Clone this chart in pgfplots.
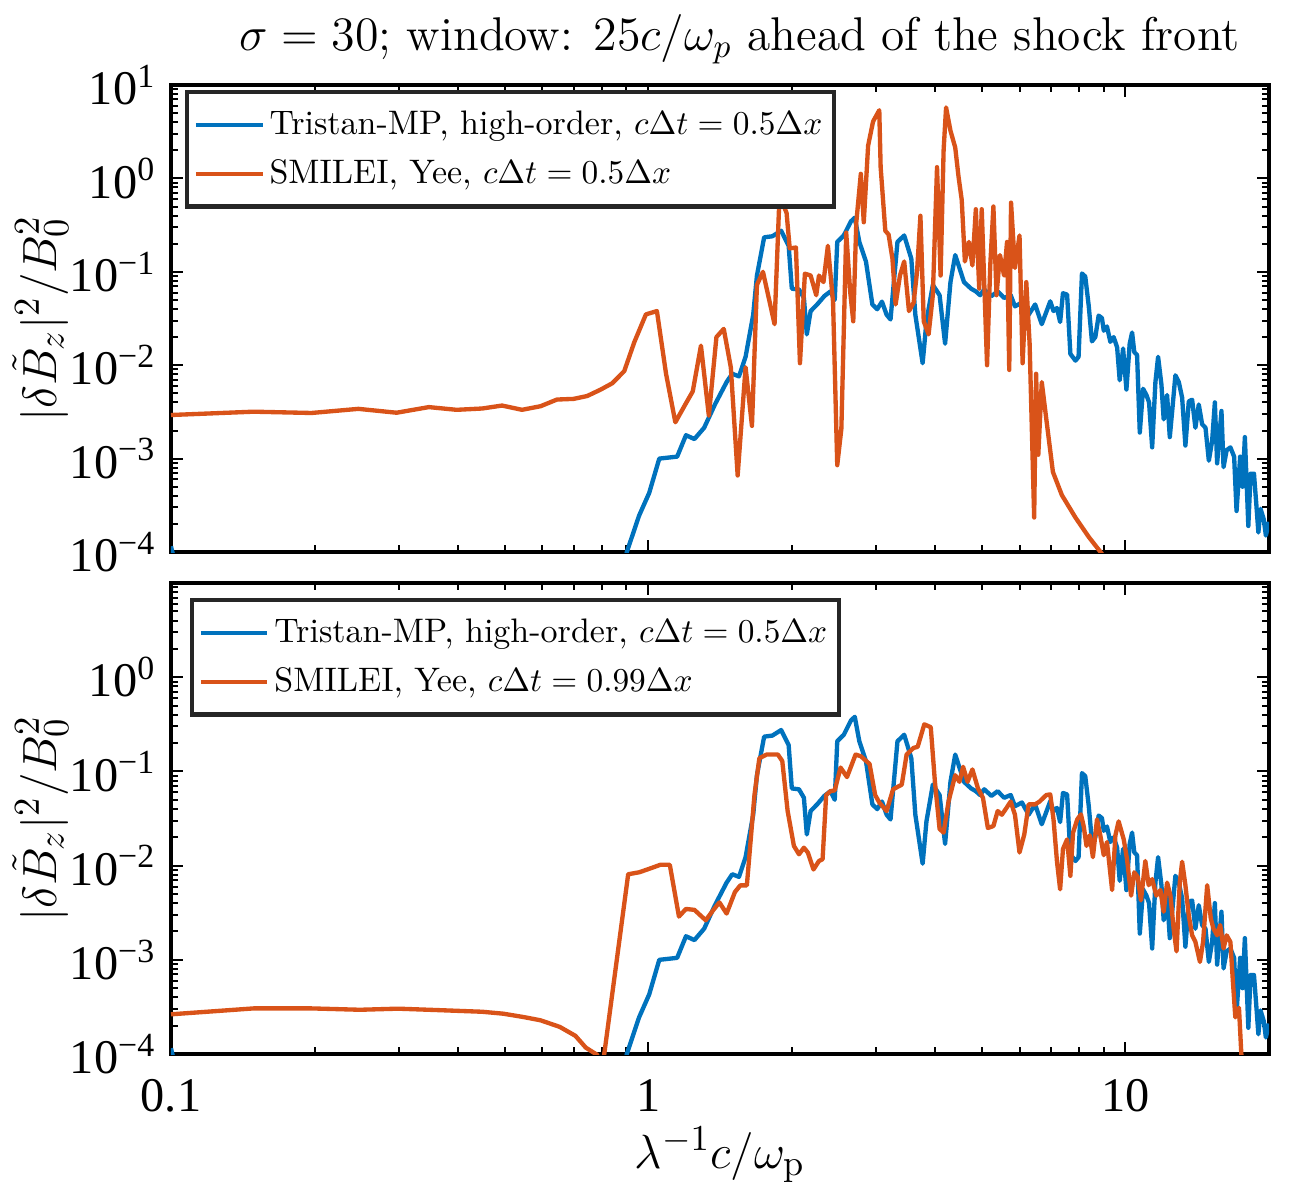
\documentclass[border=0pt]{standalone}
\usepackage{fontspec}
\usepackage{pgfplots}
\usepackage{pgfplotstable}
\pgfplotsset{compat=1.18}
\newfontfamily\tnr{Liberation Serif}
\definecolor{mblue}{rgb}{0,0.447,0.741}
\definecolor{morange}{rgb}{0.851,0.325,0.098}

\pgfplotstableread[row sep=\\]{
x y\\
0.1 1.15e-4\\ 0.104 5e-5\\ 0.88 5e-5\\ 0.902 1.0e-4\\ 0.957 2.45e-4\\ 1.005 4.3e-4\\ 1.055 1.0e-3\\ 1.15 1.05e-3\\
1.2 1.78e-3\\ 1.25 1.62e-3\\ 1.31 2.14e-3\\ 1.38 3.8e-3\\ 1.46 6.6e-3\\ 1.50 8.1e-3\\ 1.55 7.6e-3\\ 1.6 1.23e-2\\
1.66 3.47e-2\\ 1.69 9.1e-2\\ 1.75 0.234\\ 1.82 0.24\\ 1.9 0.275\\ 1.97 0.19\\ 2.0 0.066\\ 2.07 0.0646\\ 2.12 0.0525\\
2.15 0.0214\\ 2.19 0.038\\ 2.26 0.0447\\ 2.34 0.055\\ 2.41 0.0617\\ 2.46 0.050\\ 2.49 0.209\\ 2.57 0.245\\ 2.66 0.347\\
2.71 0.38\\ 2.77 0.209\\ 2.86 0.129\\ 2.95 0.0447\\ 3.02 0.0398\\ 3.09 0.0479\\ 3.16 0.0347\\ 3.22 0.0309\\ 3.33 0.209\\
3.44 0.245\\ 3.56 0.138\\ 3.63 0.0347\\ 3.76 0.0105\\ 3.83 0.0295\\ 3.95 0.0724\\ 4.08 0.0562\\ 4.19 0.017\\ 4.30 0.0776\\
4.40 0.151\\ 4.49 0.11\\ 4.59 0.0776\\ 4.75 0.066\\ 4.86 0.0617\\ 4.96 0.0562\\ 5.06 0.0646\\ 5.24 0.055\\ 5.40 0.0617\\
5.57 0.0525\\ 5.75 0.0562\\ 5.87 0.0427\\ 6.07 0.0468\\ 6.27 0.0347\\ 6.47 0.0447\\ 6.68 0.0275\\
6.96 0.0483\\ 7.07 0.038\\ 7.19 0.041\\ 7.30 0.029\\ 7.40 0.059\\ 7.55 0.057\\ 7.67 0.0132\\ 7.86 0.0112\\ 7.98 0.0123\\
8.11 0.096\\ 8.24 0.089\\ 8.38 0.043\\ 8.51 0.018\\ 8.65 0.020\\ 8.79 0.034\\ 8.93 0.032\\ 9.01 0.0234\\ 9.15 0.026\\
9.30 0.0178\\ 9.45 0.020\\ 9.61 0.0155\\ 9.73 6.9e-3\\ 9.89 0.0151\\ 10.05 5.5e-3\\ 10.21 0.017\\ 10.33 0.0224\\ 10.44 0.0138\\
10.58 0.0129\\ 10.72 1.9e-3\\ 10.89 5.6e-3\\ 11.07 4.8e-3\\ 11.21 4.0e-3\\ 11.38 1.32e-3\\ 11.56 6.6e-3\\ 11.71 0.0123\\
11.90 6.2e-3\\ 12.03 2.63e-3\\ 12.23 4.8e-3\\ 12.39 1.7e-3\\ 12.55 3.47e-3\\ 12.73 7.8e-3\\ 12.94 6.6e-3\\ 13.15 4.5e-3\\
13.36 1.38e-3\\ 13.58 4.1e-3\\ 13.80 4.27e-3\\ 14.02 2.14e-3\\ 14.25 3.8e-3\\ 14.48 2.34e-3\\ 14.72 2.14e-3\\ 14.96 9.5e-4\\
15.2 1.55e-3\\ 15.4 4.0e-3\\ 15.57 8.9e-4\\ 15.9 3.24e-3\\ 16.06 8.1e-4\\ 16.3 1.23e-3\\ 16.6 1.32e-3\\ 16.9 1.05e-3\\
17.1 2.75e-4\\ 17.4 1.05e-3\\ 17.6 5.0e-4\\ 17.8 1.7e-3\\ 18.1 1.9e-4\\ 18.3 6.9e-4\\ 18.6 6.9e-4\\ 18.8 3.4e-4\\ 19.0 1.62e-4\\
19.2 2.9e-4\\ 19.5 2.24e-4\\ 19.7 1.5e-4\\ 20 2.1e-4\\
}\tblue

\pgfplotstableread[row sep=\\]{
x y\\
0.1 2.93e-3\\ 0.149 3.18e-3\\ 0.197 3.08e-3\\ 0.247 3.41e-3\\ 0.297 3.1e-3\\ 0.347 3.56e-3\\ 0.397 3.33e-3\\ 0.449 3.44e-3\\
0.494 3.7e-3\\ 0.544 3.33e-3\\ 0.595 3.64e-3\\ 0.644 4.29e-3\\ 0.698 4.36e-3\\ 0.745 4.68e-3\\ 0.794 5.46e-3\\ 0.841 6.41e-3\\
0.891 8.65e-3\\ 0.935 0.0176\\ 0.989 0.035\\ 1.043 0.038\\ 1.09 8.1e-3\\ 1.14 2.45e-3\\ 1.19 3.63e-3\\ 1.24 5.25e-3\\
1.29 0.0162\\ 1.34 2.88e-3\\ 1.39 0.02\\ 1.44 0.0245\\ 1.49 9.5e-3\\ 1.54 6.6e-4\\ 1.6 9.5e-3\\ 1.65 2.24e-3\\ 1.69 0.0724\\
1.74 0.1\\ 1.84 0.0275\\ 1.88 0.468\\ 1.9 0.589\\ 1.95 0.427\\ 1.98 0.178\\ 2.04 0.182\\ 2.08 0.0105\\ 2.13 0.0955\\
2.19 0.0912\\ 2.25 0.0562\\ 2.28 0.0912\\ 2.33 0.0776\\ 2.38 0.19\\ 2.44 0.0479\\ 2.49 8.5e-4\\ 2.54 2.09e-3\\ 2.60 0.263\\
2.65 0.0617\\ 2.69 0.0295\\ 2.73 0.339\\ 2.79 1.12\\ 2.83 0.339\\ 2.89 2.24\\ 2.96 4.07\\ 3.05 5.37\\ 3.07 1.32\\ 3.14 0.275\\
3.19 0.251\\ 3.25 0.138\\ 3.30 0.0447\\ 3.37 0.0912\\ 3.44 0.129\\ 3.52 0.038\\ 3.60 0.0468\\ 3.66 0.1\\ 3.72 0.398\\
3.78 0.0295\\ 3.87 0.0214\\ 3.95 0.0562\\ 4.03 1.32\\ 4.10 0.0912\\ 4.16 2.0\\ 4.21 5.75\\ 4.30 3.24\\ 4.40 2.14\\ 4.47 1.05\\
4.54 0.589\\ 4.61 0.129\\ 4.70 0.209\\ 4.78 0.117\\ 4.86 0.468\\ 4.94 0.066\\ 5.0 0.468\\ 5.13 0.01\\ 5.21 0.117\\ 5.29 0.50\\
5.37 0.0562\\ 5.46 0.151\\ 5.57 0.0912\\ 5.65 0.209\\ 5.71 8.9e-3\\ 5.76 0.55\\ 5.87 0.11\\ 6.0 0.245\\ 6.09 0.0105\\
6.20 0.0776\\ 6.30 0.017\\ 6.44 2.34e-4\\ 6.50 8.1e-3\\ 6.57 1.1e-3\\ 6.68 6.6e-3\\ 6.83 2.63e-3\\ 7.05 7.2e-4\\ 7.36 4.07e-4\\
7.86 2.34e-4\\ 8.38 1.45e-4\\ 8.94 9.5e-5\\ 9.2 6e-5\\
}\torangetop

\pgfplotstableread[row sep=\\]{
x y\\
0.1 2.64e-4\\ 0.149 3.05e-4\\ 0.197 3.05e-4\\ 0.249 2.95e-4\\ 0.299 3.03e-4\\ 0.360 2.93e-4\\ 0.449 2.81e-4\\ 0.497 2.68e-4\\
0.548 2.47e-4\\ 0.595 2.28e-4\\ 0.653 1.94e-4\\ 0.704 1.56e-4\\ 0.740 1.17e-4\\ 0.782 9.8e-5\\ 0.795 5e-5\\ 0.809 1e-4\\
0.908 8.1e-3\\ 0.958 8.5e-3\\ 1.02 9.5e-3\\ 1.06 0.0102\\ 1.11 0.0102\\ 1.16 2.88e-3\\ 1.20 3.47e-3\\ 1.25 3.39e-3\\
1.32 2.63e-3\\ 1.37 3.39e-3\\ 1.41 4.07e-3\\ 1.46 3.1e-3\\ 1.52 5.25e-3\\ 1.56 6.17e-3\\ 1.61 6.17e-3\\ 1.67 0.0562\\
1.71 0.138\\ 1.77 0.151\\ 1.87 0.151\\ 1.91 0.129\\ 1.96 0.038\\ 2.02 0.0162\\ 2.07 0.0132\\ 2.12 0.0155\\ 2.16 0.0138\\
2.22 9.1e-3\\ 2.28 0.0112\\ 2.32 0.0117\\ 2.36 0.0562\\ 2.41 0.0617\\ 2.46 0.063\\ 2.53 0.11\\ 2.61 0.0871\\ 2.72 0.151\\
2.79 0.145\\ 2.91 0.12\\ 2.99 0.0562\\ 3.05 0.0468\\ 3.16 0.038\\ 3.26 0.0646\\ 3.40 0.0724\\ 3.48 0.151\\ 3.60 0.178\\
3.67 0.182\\ 3.79 0.316\\ 3.91 0.295\\ 3.99 0.0776\\ 4.08 0.0245\\ 4.16 0.0224\\ 4.26 0.0479\\ 4.40 0.0912\\ 4.49 0.0776\\
4.57 0.112\\ 4.67 0.0776\\ 4.78 0.105\\ 4.91 0.066\\ 5.03 0.0525\\ 5.15 0.0251\\ 5.29 0.0263\\ 5.40 0.038\\ 5.51 0.0347\\
5.63 0.0407\\ 5.75 0.0479\\ 5.87 0.0347\\ 6.0 0.0138\\ 6.14 0.0214\\ 6.27 0.0447\\ 6.47 0.0447\\ 6.61 0.0479\\ 6.83 0.0562\\
6.96 0.057\\ 7.07 0.031\\ 7.19 0.011\\ 7.30 5.6e-3\\ 7.40 0.015\\ 7.55 0.019\\ 7.67 7.8e-3\\ 7.77 0.0224\\ 7.93 0.031\\
8.07 0.035\\ 8.18 0.026\\ 8.29 0.0162\\ 8.42 0.021\\ 8.55 0.0123\\ 8.72 0.031\\ 8.86 0.021\\ 9.01 0.0129\\ 9.15 0.0178\\
9.38 5.5e-3\\ 9.53 0.021\\ 9.68 0.0295\\ 9.92 0.019\\ 10.08 0.0117\\ 10.28 4.8e-3\\ 10.44 8.5e-3\\ 10.61 7.6e-3\\ 10.78 4.27e-3\\
11.01 0.0112\\ 11.19 6.2e-3\\ 11.38 7.2e-3\\ 11.61 4.8e-3\\ 11.84 5.5e-3\\ 12.03 3.24e-3\\ 12.23 6.6e-3\\ 12.43 4.8e-3\\
12.64 2.0e-3\\ 12.80 1.23e-3\\ 13.0 6.6e-3\\ 13.15 0.011\\ 13.36 6.2e-3\\ 13.58 2.95e-3\\ 13.80 1.82e-3\\ 14.02 1.55e-3\\
14.33 9.5e-4\\ 14.55 1.55e-3\\ 14.84 6.2e-3\\ 15.1 2.75e-3\\ 15.3 2.14e-3\\ 15.57 1.82e-3\\ 15.8 2.34e-3\\ 16.06 1.32e-3\\
16.3 1.82e-3\\ 16.6 1.55e-3\\ 16.8 5.9e-4\\ 17.0 2.45e-4\\ 17.3 3.1e-4\\ 17.5 1e-4\\ 17.6 1e-5\\
}\torangebot

\pgfplotsset{
  legend image code/.code={\draw[#1, line width=1.2pt] (0pt,0pt) -- (20pt,0pt);},
}

\begin{document}
\begin{tikzpicture}
\useasboundingbox (-51.3pt,-40.8pt) rectangle (341.4pt,316.2pt);
% top axis
\begin{axis}[
  scale only axis,
  width=329.4pt, height=140.1pt,
  at={(0pt,150.6pt)}, anchor=south west,
  xmode=log, ymode=log,
  xmin=0.1, xmax=20, ymin=1e-4, ymax=10,
  axis line style={line width=1.2pt},
  tick style={line width=0.6pt, black},
  tick align=inside,
  major tick length=3.6pt,
  minor tick length=2pt,
  xtick={0.1,1,10},
  xticklabels={},
  minor xtick={0.2,0.3,0.4,0.5,0.6,0.7,0.8,0.9,2,3,4,5,6,7,8,9},
  ytick={1e-4,1e-3,1e-2,1e-1,1,10},
  yticklabels={10\textsuperscript{−4},10\textsuperscript{−3},10\textsuperscript{−2},10\textsuperscript{−1},10\textsuperscript{0},10\textsuperscript{1}},
  minor ytick={2e-4,3e-4,4e-4,5e-4,6e-4,7e-4,8e-4,9e-4,2e-3,3e-3,4e-3,5e-3,6e-3,7e-3,8e-3,9e-3,2e-2,3e-2,4e-2,5e-2,6e-2,7e-2,8e-2,9e-2,0.2,0.3,0.4,0.5,0.6,0.7,0.8,0.9,2,3,4,5,6,7,8,9},
  yticklabel style={anchor=east, xshift=-1pt, font=\fontsize{14.5}{17}\selectfont\tnr},
  ylabel={$|\delta\tilde{B}_z|^2/B_0^2$},
  every axis y label/.style={at={(axis description cs:-0.119,0.5)}, rotate=90, anchor=center, font=\fontsize{15.5}{18}\selectfont},
  legend cell align=left,
  legend style={at={(rel axis cs:0.0128,0.989)}, anchor=north west, draw=black!85, line width=1.3pt, fill=white,
      font=\fontsize{10.2}{12}\selectfont, inner xsep=2pt, inner ysep=4pt, row sep=3pt,
      nodes={inner sep=1.5pt}},
  title={$\sigma = 30$; window: $25c/\omega_p$ ahead of the shock front},
  title style={at={(0.518,1)}, anchor=base, yshift=4.5pt, font=\fontsize{14.2}{16}\selectfont},
]
\addplot[mblue, line width=1.3pt, line join=round] table[x=x,y=y] {\tblue};
\addlegendentry{Tristan-MP, high-order, $c\Delta t = 0.5\Delta x$}
\addplot[morange, line width=1.3pt, line join=round] table[x=x,y=y] {\torangetop};
\addlegendentry{SMILEI, Yee, $c\Delta t = 0.5\Delta x$}
\end{axis}
% bottom axis
\begin{axis}[
  scale only axis,
  width=329.4pt, height=141.3pt,
  at={(0pt,0pt)}, anchor=south west,
  xmode=log, ymode=log,
  xmin=0.1, xmax=20, ymin=1e-4, ymax=10,
  axis line style={line width=1.2pt},
  tick style={line width=0.6pt, black},
  tick align=inside,
  major tick length=3.6pt,
  minor tick length=2pt,
  xtick={0.1,1,10},
  xticklabels={0.1,1,10},
  xticklabel style={yshift=-4pt, font=\fontsize{14.5}{17}\selectfont\tnr},
  minor xtick={0.2,0.3,0.4,0.5,0.6,0.7,0.8,0.9,2,3,4,5,6,7,8,9},
  ytick={1e-4,1e-3,1e-2,1e-1,1},
  yticklabels={10\textsuperscript{−4},10\textsuperscript{−3},10\textsuperscript{−2},10\textsuperscript{−1},10\textsuperscript{0}},
  minor ytick={2e-4,3e-4,4e-4,5e-4,6e-4,7e-4,8e-4,9e-4,2e-3,3e-3,4e-3,5e-3,6e-3,7e-3,8e-3,9e-3,2e-2,3e-2,4e-2,5e-2,6e-2,7e-2,8e-2,9e-2,0.2,0.3,0.4,0.5,0.6,0.7,0.8,0.9,2,3,4,5,6,7,8,9},
  yticklabel style={anchor=east, xshift=-1pt, font=\fontsize{14.5}{17}\selectfont\tnr},
  ylabel={$|\delta\tilde{B}_z|^2/B_0^2$},
  every axis y label/.style={at={(axis description cs:-0.119,0.5)}, rotate=90, anchor=center, font=\fontsize{15.5}{18}\selectfont},
  xlabel={$\lambda^{-1}c/\omega_{\mathrm{p}}$},
  every axis x label/.style={at={(axis description cs:0.5,-0.2144)}, anchor=center, font=\fontsize{15.5}{18}\selectfont},
  legend cell align=left,
  legend style={at={(rel axis cs:0.0173,0.968)}, anchor=north west, draw=black!85, line width=1.3pt, fill=white,
      font=\fontsize{10.2}{12}\selectfont, inner xsep=2pt, inner ysep=4pt, row sep=3pt,
      nodes={inner sep=1.5pt}},
]
\addplot[mblue, line width=1.3pt, line join=round] table[x=x,y=y] {\tblue};
\addlegendentry{Tristan-MP, high-order, $c\Delta t = 0.5\Delta x$}
\addplot[morange, line width=1.3pt, line join=round] table[x=x,y=y] {\torangebot};
\addlegendentry{SMILEI, Yee, $c\Delta t = 0.99\Delta x$}
\end{axis}
\end{tikzpicture}
\end{document}
